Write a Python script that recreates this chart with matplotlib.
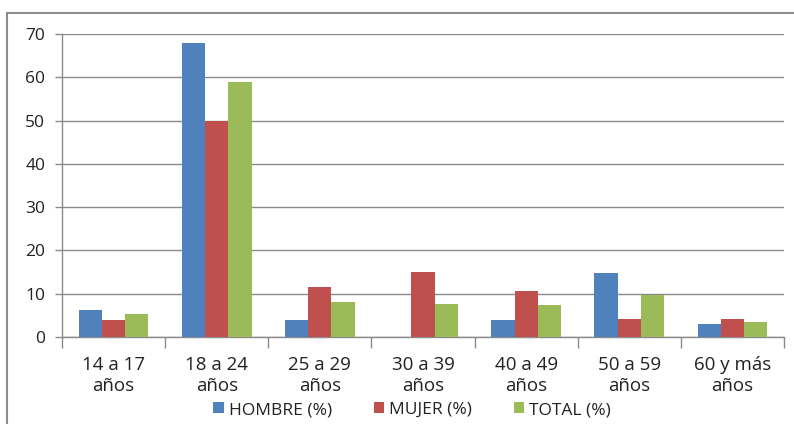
# age_distribution.py
# Grouped bar chart: share of people by age group, split by sex.

import numpy as np
import matplotlib
matplotlib.use("Agg")
import matplotlib.pyplot as plt
from matplotlib.patches import Rectangle

plt.rcParams['font.family'] = ['Open Sans', 'DejaVu Sans']

categories = ["14 a 17\naños", "18 a 24\naños", "25 a 29\naños", "30 a 39\naños",
              "40 a 49\naños", "50 a 59\naños", "60 y más\naños"]
hombre = [6.2, 68, 4.0, 0, 3.9, 14.9, 2.9]
mujer = [3.9, 50, 11.5, 15.1, 10.6, 4.1, 4.25]
total = [5.2, 59, 8.0, 7.6, 7.3, 9.6, 3.4]
series_names = ["HOMBRE (%)", "MUJER (%)", "TOTAL (%)"]
colors = ["#4F81BD", "#C0504D", "#9BBB59"]

fig = plt.figure(figsize=(7.94, 4.24), dpi=100)
ax = fig.add_axes([62 / 794, 87 / 424, 722 / 794, 303 / 424])

# outer chart frame (cut off at right and bottom like the source image)
fig.patches.append(Rectangle((7 / 794, -0.1), 1.2, 1.1 - 13 / 424,
                             transform=fig.transFigure, fill=False,
                             edgecolor="#8c8c8c", linewidth=1.5))

x = np.arange(len(categories))
w = 0.225
for i, (vals, name, c) in enumerate(zip([hombre, mujer, total], series_names, colors)):
    ax.bar(x + (i - 1) * w, vals, width=w, color=c, label=name, zorder=3)

ax.set_xlim(-0.5, len(categories) - 0.5)
ax.set_ylim(0, 70)
ax.set_yticks(range(0, 71, 10))
ax.yaxis.grid(True, color="#8a8a8a", linewidth=1, zorder=0)

# category boundaries as major ticks, labels on minor ticks
ax.set_xticks(np.arange(-0.5, len(categories), 1))
ax.set_xticklabels([])
ax.set_xticks(x, minor=True)
ax.set_xticklabels(categories, minor=True, fontsize=13.5, color="#222222",
                   linespacing=1.2)
ax.tick_params(axis="x", which="major", length=8, color="#8a8a8a", width=1)
ax.tick_params(axis="x", which="minor", length=0, pad=14)
ax.tick_params(axis="y", length=5, color="#8a8a8a", width=1, pad=7,
               labelsize=12.5, labelcolor="#222222")

for s in ["top", "right"]:
    ax.spines[s].set_visible(False)
for s in ["left", "bottom"]:
    ax.spines[s].set_color("#8a8a8a")
    ax.spines[s].set_linewidth(1)

fig.legend(loc="center", bbox_to_anchor=(0.519, 0.033), ncol=3, frameon=False,
           fontsize=12.5, handlelength=0.6, handleheight=0.6,
           handletextpad=0.3, columnspacing=2.4, labelcolor="#222222")

fig.savefig("out.png", dpi=100)
